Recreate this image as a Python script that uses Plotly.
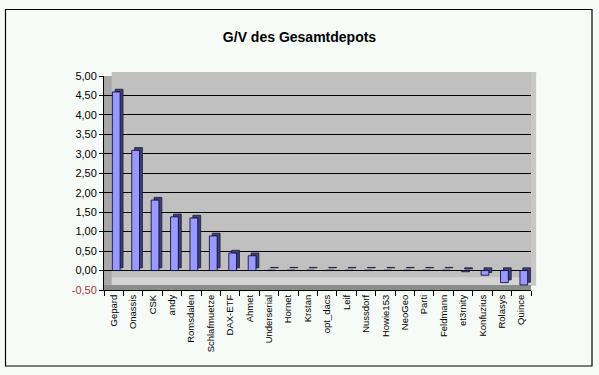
import plotly.graph_objects as go

categories = ["Gepard", "Onassis", "CSK", "andy", "Romsdalen", "Schlafmuetze", "DAX-ETF",
              "Ahmet", "Underserial", "Hornet", "Krstan", "opt_dacs", "Leif", "Nussdorf",
              "Howie153", "NeoGeo", "Parti", "Feldmann", "et3rnity", "Konfuzius", "Rolasys", "Quince"]
values = [4.59, 3.09, 1.81, 1.38, 1.35, 0.89, 0.45, 0.38, 0.01, 0.01, 0.01, 0.01, 0.01, 0.01,
          0.01, 0.01, 0.01, 0.01, -0.03, -0.12, -0.31, -0.37]
tick_vals = [-0.5, 0, 0.5, 1, 1.5, 2, 2.5, 3, 3.5, 4, 4.5, 5]
tick_text = ["<span style='color:#B03030'>-0,50</span>", "0,00", "0,50", "1,00", "1,50", "2,00",
             "2,50", "3,00", "3,50", "4,00", "4,50", "5,00"]

depth = 0.07  # visual depth shift (3D look) in value units

fig = go.Figure()
# dark side/top faces (pseudo 3D)
fig.add_trace(go.Bar(x=categories, y=values, base=[depth] * len(values),
                     width=0.4, offset=0.08,
                     marker=dict(color="#3F3F7A", line=dict(color="#1A1A33", width=0.8)),
                     hoverinfo="skip", showlegend=False))
# front faces
fig.add_trace(go.Bar(x=categories, y=values, width=0.4, offset=-0.07,
                     marker=dict(color="#9999FF", line=dict(color="#000022", width=0.8)),
                     showlegend=False))

bg = "#F6FBF7"
fig.update_layout(
    width=599, height=375,
    barmode="overlay",
    paper_bgcolor=bg, plot_bgcolor="#C0C0C0",
    margin=dict(l=104, r=68, t=76, b=85),
    font=dict(family="Liberation Sans, Arial, sans-serif", color="black"),
    title=dict(text="<b>G/V des Gesamtdepots</b>", x=0.5, xref="container", xanchor="center",
               y=1 - 37 / 375, yref="container", yanchor="middle",
               font=dict(size=14, color="black")),
    xaxis=dict(type="category", tickangle=-90, tickfont=dict(size=9.5),
               ticks="outside", tickson="boundaries", ticklen=5, tickcolor="black",
               showline=True, linecolor="black", linewidth=1, showgrid=False),
    yaxis=dict(range=[-0.5, 5.0], tickvals=tick_vals, ticktext=tick_text,
               tickfont=dict(size=11), ticks="outside", ticklen=4, tickcolor="black",
               showline=True, linecolor="black", linewidth=1,
               showgrid=True, gridcolor="black", gridwidth=1,
               zeroline=True, zerolinecolor="black", zerolinewidth=1),
    shapes=[
        # floor (light) and floor edge (dark)
        dict(type="rect", xref="x domain", yref="y domain", x0=0, x1=1, y0=0.023, y1=0.06,
             fillcolor="#D4D4D4", line=dict(width=0), layer="below"),
        dict(type="rect", xref="x domain", yref="y domain", x0=0, x1=1, y0=0, y1=0.023,
             fillcolor="#8C8C8C", line=dict(width=0), layer="below"),
        # left side wall
        dict(type="rect", xref="x domain", yref="y domain", x0=0, x1=0.018, y0=0.023, y1=1,
             fillcolor="#A8A8A8", line=dict(width=0), layer="below"),
        # back wall top and right edges (3D depth)
        dict(type="rect", xref="x domain", yref="y domain", x0=0.018, x1=1.012, y0=1.0, y1=1.019,
             fillcolor="#C0C0C0", line=dict(width=0), layer="below"),
        dict(type="rect", xref="x domain", yref="y domain", x0=1.0, x1=1.012, y0=0.02, y1=1.019,
             fillcolor="#C8C8C8", line=dict(width=0), layer="below"),
        # outer frame
        dict(type="rect", xref="paper", yref="paper",
             x0=(5.5 - 104) / 427, x1=(592 - 104) / 427,
             y0=(290 - 366) / 214, y1=(290 - 9.5) / 214,
             line=dict(color="black", width=1.2), fillcolor="rgba(0,0,0,0)"),
    ],
)

fig.write_html("out.html", config={"displayModeBar": False},
               post_script="document.body.style.margin='0';document.body.style.background='%s';" % bg)
